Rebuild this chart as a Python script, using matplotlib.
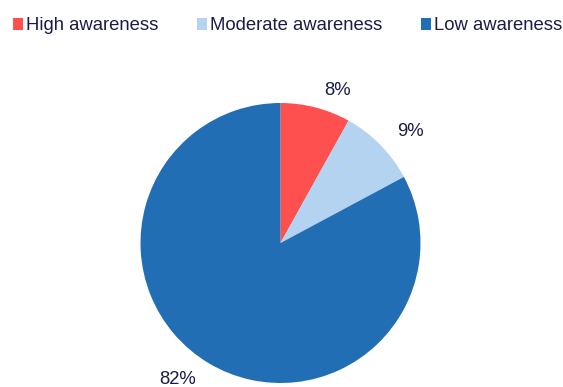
import numpy as np
import matplotlib.pyplot as plt
from matplotlib.patches import Patch

plt.rcParams['font.family'] = ['Liberation Sans', 'DejaVu Sans']

labels = ["High awareness", "Moderate awareness", "Low awareness"]
shares = [8, 9, 82]
colors = ["#FF5050", "#B4D3F0", "#226EB4"]
text_color = "#1B1B4B"

fig = plt.figure(figsize=(5.63, 3.87), dpi=100)
# axes box = pie bounding box (pixels: centre 280.5, 243 from top, radius 140)
W, H = 563, 387
ax = fig.add_axes([(280.5 - 140) / W, (H - 243 - 140) / H, 280 / W, 280 / H])

wedges, _ = ax.pie(shares, colors=colors, startangle=90, counterclock=False,
                   radius=1.0, wedgeprops=dict(linewidth=0))
ax.set_xlim(-1, 1)
ax.set_ylim(-1, 1)
ax.set_aspect("equal")
ax.axis("off")

# percentage labels just outside each wedge
nudge = [6, 4, 6]      # degrees, clockwise shift of label
dist = [1.16, 1.22, 1.22]
for w, v, dn, d in zip(wedges, shares, nudge, dist):
    mid = np.deg2rad((w.theta1 + w.theta2) / 2 - dn)
    ax.text(d * np.cos(mid), d * np.sin(mid), f"{v}%", ha="center", va="center",
            fontsize=13.3, color=text_color, clip_on=False)

handles = [Patch(facecolor=c, edgecolor="none") for c in colors]
fig.legend(handles, labels, loc="center", bbox_to_anchor=(287.5 / W, 1 - 26 / H),
           ncol=3, frameon=False, fontsize=13.3, labelcolor=text_color,
           handlelength=0.55, handleheight=0.55, handletextpad=0.15,
           columnspacing=2.1, borderaxespad=0, borderpad=0)

fig.savefig("out.png", dpi=100)
